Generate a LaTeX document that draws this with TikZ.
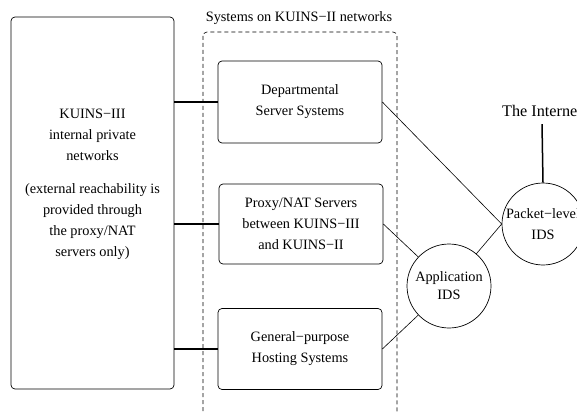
\documentclass[tikz,border=0pt]{standalone}
\usepackage{fontspec}
\setmainfont{Liberation Serif}
\usepackage{tikz}
\usetikzlibrary{positioning}

\begin{document}
\begin{tikzpicture}[x=1pt, y=-1pt, font=\fontsize{14.3}{21}\selectfont,
  sys/.style={draw, rounded corners=4pt, align=center, inner sep=0pt,
              minimum width=164pt, line width=0.7pt},
  ids/.style={draw, circle, align=center, inner sep=0pt, line width=0.7pt},
  link/.style={line width=1.5pt},
  wire/.style={line width=0.6pt}]
\useasboundingbox (0,0) rectangle (577,414);
\clip (0,0) rectangle (577,414);
% internal private networks
\node[sys, minimum width=163pt, minimum height=372pt] (kuins3) at (92.5,203) {};
\node[align=center] (kuins3txt) at (92.5,184)
  {KUINS−III\\internal private\\networks\\[12pt]
   (external reachability is\\provided through\\the proxy/NAT\\servers only)};
% KUINS-II group
\draw[dashed, dash pattern=on 4pt off 3pt, rounded corners=4pt, line width=0.6pt]
  (203,32) rectangle (397,440);
\node (grp) at (299,18) {Systems on KUINS−II networks};
\node[sys, minimum height=82pt] (dept) at (300,102) {Departmental\\Server Systems};
\node[sys, minimum height=80pt] (proxy) at (301,224)
  {Proxy/NAT Servers\\between KUINS−III\\and KUINS−II};
\node[sys, minimum height=81pt] (host) at (300,349)
  {General−purpose\\Hosting Systems};
% IDS
\node[ids, minimum size=84pt, font=\fontsize{14.3}{18}\selectfont] (app) at (449,286)
  {Application\\IDS};
\node[ids, minimum size=82pt] (pkt) at (543,224) {Packet−level\\IDS};
\node[font=\fontsize{16.2}{20}\selectfont] (inet) at (542,111) {The Internet};
% links
\draw[link] (kuins3.east |- dept.west) -- (dept.west);
\draw[link] (kuins3.east |- proxy.west) -- (proxy.west);
\draw[link] (kuins3.east |- host.west) -- (host.west);
\draw[link] (inet.south) ++(0,4) coordinate (inettip) (inettip) -- (pkt.north);
\draw[wire] (dept.east) -- (pkt.west);
\draw[wire] (proxy.east) -- (app);
\draw[wire] (host.east) -- (app);
\draw[wire] (app) -- (pkt.west);
\end{tikzpicture}
\end{document}
